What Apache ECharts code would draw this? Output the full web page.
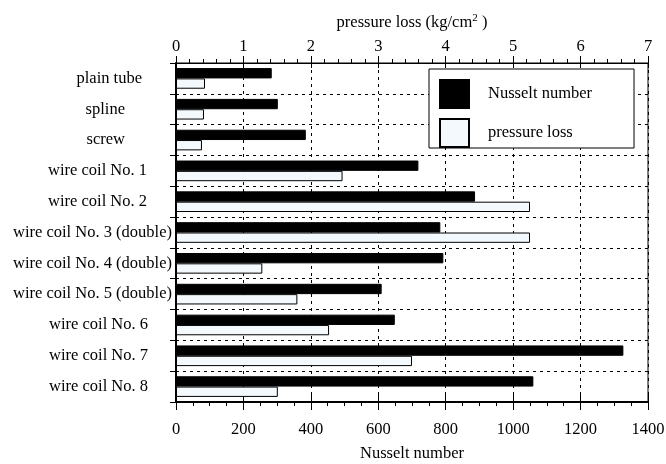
<!DOCTYPE html>
<html><head><meta charset="utf-8">
<script src="https://cdn.jsdelivr.net/npm/echarts@6/dist/echarts.min.js"></script>
<style>html,body{margin:0;padding:0;background:#fff}#c{width:666px;height:464px}</style>
</head><body><div id="c"></div>
<script>
const categories = ["plain tube","spline","screw","wire coil No. 1","wire coil No. 2","wire coil No. 3 (double)","wire coil No. 4 (double)","wire coil No. 5 (double)","wire coil No. 6","wire coil No. 7","wire coil No. 8"];
const nusselt = [284, 302, 385, 719, 887, 784, 793, 610, 649, 1327, 1060];
const pressureLoss = [0.43, 0.415, 0.385, 2.47, 5.25, 5.25, 1.28, 1.80, 2.27, 3.50, 1.51];
const nusseltTicks = {min: 0, max: 1400, interval: 200};
const pressureTicks = {min: 0, max: 7, interval: 1};

// label layout (how far each category label sits left of the longest one)
const labelIndent = [30, 47, 47, 25, 25, 0, 0, 0, 24, 24, 24];

const FONT = 'Liberation Serif';
const FS = 16.5;
const dash = [3, 4];
const rich = {};
labelIndent.forEach((p, i) => {
  rich['l' + i] = {fontFamily: FONT, fontSize: FS, color: '#000', padding: [0, p, 0, 0]};
});
function innerTicks(position, range, len) {
  return {
    type: 'value', position: position,
    min: range.min, max: range.max, interval: range.interval,
    axisLine: {show: false}, axisLabel: {show: false}, splitLine: {show: false},
    axisTick: {show: true, inside: true, length: len, lineStyle: {color: '#000', width: 1}}
  };
}
const chart = echarts.init(document.getElementById('c'));
chart.setOption({
  animation: false,
  textStyle: {fontFamily: FONT, color: '#000'},
  grid: {left: 176, right: 18, top: 63, bottom: 62, outerBoundsMode: 'none', containLabel: false,
    show: true, borderColor: '#000', borderWidth: 1, backgroundColor: 'transparent'},
  legend: {
    orient: 'vertical', left: 429, top: 69,
    itemWidth: 29, itemHeight: 28, itemGap: 9,
    padding: [10, 42, 0, 10],
    backgroundColor: '#fff', borderColor: '#000', borderWidth: 1,
    icon: 'rect',
    textStyle: {fontFamily: FONT, fontSize: FS, color: '#000', padding: [0, 0, 0, 14]},
    data: ['Nusselt number', 'pressure loss']
  },
  xAxis: [
    {
      type: 'value', position: 'bottom',
      min: nusseltTicks.min, max: nusseltTicks.max, interval: nusseltTicks.interval,
      name: 'Nusselt number', nameLocation: 'middle', nameGap: 43,
      nameTextStyle: {fontFamily: FONT, fontSize: FS, color: '#000'},
      axisLine: {show: true, lineStyle: {color: '#000', width: 2}},
      axisTick: {show: true, length: 8, lineStyle: {color: '#000', width: 1}},
      minorTick: {show: true, splitNumber: 4, length: 4, lineStyle: {color: '#000', width: 1}},
      axisLabel: {fontFamily: FONT, fontSize: FS, color: '#000', margin: 19, formatter: v => String(v)},
      splitLine: {show: true, lineStyle: {color: '#000', type: dash, width: 1}}
    },
    {
      type: 'value', position: 'top',
      min: pressureTicks.min, max: pressureTicks.max, interval: pressureTicks.interval,
      name: 'pressure loss (kg/cm{sup|2} )', nameLocation: 'middle', nameGap: 31,
      nameTextStyle: {fontFamily: FONT, fontSize: FS, color: '#000',
        rich: {sup: {fontFamily: FONT, fontSize: 11, color: '#000', verticalAlign: 'bottom', padding: [0, 0, 8, 0]}}},
      axisLine: {show: true, lineStyle: {color: '#000', width: 1}},
      axisTick: {show: true, length: 7, lineStyle: {color: '#000', width: 1}},
      minorTick: {show: true, splitNumber: 5, length: 4, lineStyle: {color: '#000', width: 1}},
      axisLabel: {fontFamily: FONT, fontSize: FS, color: '#000', margin: 8, formatter: v => String(v)},
      splitLine: {show: false}
    },
    innerTicks('bottom', nusseltTicks, 7),
    innerTicks('top', pressureTicks, 5)
  ],
  yAxis: {
    type: 'category', inverse: true, data: categories,
    axisLine: {show: true, lineStyle: {color: '#000', width: 2}},
    axisTick: {show: true, length: 6, lineStyle: {color: '#000', width: 1}},
    axisLabel: {fontFamily: FONT, fontSize: FS, color: '#000', margin: 4,
      formatter: (v, i) => '{l' + i + '|' + v + '}', rich: rich},
    splitLine: {show: true, lineStyle: {color: '#000', type: dash, width: 1}}
  },
  series: [
    {
      name: 'Nusselt number', type: 'bar', xAxisIndex: 0, data: nusselt,
      barGap: '0%', barCategoryGap: '33%',
      itemStyle: {color: '#000', borderColor: '#000', borderWidth: 1}
    },
    {
      name: 'pressure loss', type: 'bar', xAxisIndex: 1, data: pressureLoss,
      barGap: '0%', barCategoryGap: '33%',
      itemStyle: {color: '#f3f9fd', borderColor: '#000', borderWidth: 1}
    }
  ]
});
</script>
</body></html>
